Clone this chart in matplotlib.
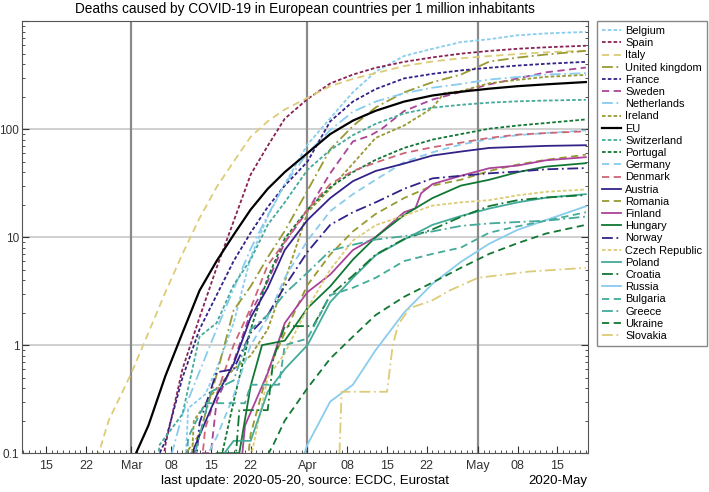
import datetime as dt
import matplotlib
matplotlib.use('Agg')
import matplotlib.pyplot as plt
import matplotlib.dates as mdates
from matplotlib.ticker import FuncFormatter, LogLocator, NullFormatter

plt.rcParams['font.family'] = ['Liberation Sans', 'DejaVu Sans']

# cumulative deaths per 1 million inhabitants, (date, value)
belgium = [("03-10", 0.02), ("03-11", 0.26), ("03-14", 0.35), ("03-16", 0.6), ("03-19", 1.6),
           ("03-22", 6.5), ("03-25", 15.5), ("03-28", 31), ("04-01", 72), ("04-05", 126),
           ("04-09", 220), ("04-13", 340), ("04-18", 476), ("04-23", 555), ("04-28", 640),
           ("05-03", 680), ("05-08", 740), ("05-13", 770), ("05-20", 795)]
spain = [("03-06", 0.05), ("03-07", 0.12), ("03-10", 0.6), ("03-13", 1.8), ("03-16", 5.2),
         ("03-19", 14), ("03-22", 38), ("03-25", 70), ("03-28", 125), ("04-01", 190),
         ("04-05", 265), ("04-09", 320), ("04-13", 370), ("04-18", 420), ("04-23", 462),
         ("04-28", 500), ("05-03", 530), ("05-08", 555), ("05-13", 573), ("05-20", 592)]
italy = [("02-22", 0.03), ("02-24", 0.09), ("02-26", 0.2), ("03-01", 0.55), ("03-04", 1.3),
         ("03-07", 3.1), ("03-10", 7), ("03-13", 15), ("03-16", 29), ("03-19", 50),
         ("03-22", 85), ("03-25", 118), ("03-28", 152), ("04-01", 195), ("04-05", 250),
         ("04-09", 292), ("04-13", 330), ("04-18", 384), ("04-23", 423), ("04-28", 453),
         ("05-03", 475), ("05-08", 496), ("05-13", 515), ("05-20", 533)]
uk = [("03-05", 0.015), ("03-07", 0.03), ("03-10", 0.09), ("03-13", 0.15), ("03-16", 0.53),
      ("03-19", 2.1), ("03-22", 3.5), ("03-25", 6.5), ("03-28", 11.4), ("04-01", 27),
      ("04-05", 65), ("04-09", 107), ("04-13", 159), ("04-18", 219), ("04-23", 272),
      ("04-28", 320), ("05-03", 422), ("05-08", 460), ("05-13", 491), ("05-20", 531)]
france = [("02-26", 0.03), ("03-04", 0.06), ("03-07", 0.13), ("03-10", 0.5), ("03-13", 1.4),
          ("03-16", 2.9), ("03-19", 6.0), ("03-22", 11), ("03-25", 19), ("03-28", 30),
          ("04-01", 50), ("04-05", 118), ("04-09", 180), ("04-13", 235), ("04-18", 295),
          ("04-23", 325), ("04-28", 350), ("05-03", 370), ("05-08", 388), ("05-13", 403),
          ("05-20", 420)]
sweden = [("03-10", 0.05), ("03-11", 0.1), ("03-15", 0.1), ("03-16", 0.3), ("03-19", 0.7),
          ("03-22", 2.0), ("03-25", 3.9), ("03-28", 8.9), ("04-01", 17.5), ("04-05", 39),
          ("04-09", 77), ("04-12", 87), ("04-14", 100), ("04-18", 147), ("04-23", 188),
          ("04-28", 221), ("05-03", 260), ("05-08", 295), ("05-13", 336), ("05-20", 372)]
netherlands = [("03-05", 0.03), ("03-07", 0.06), ("03-10", 0.23), ("03-13", 0.57), ("03-16", 1.4),
               ("03-19", 3.3), ("03-22", 7.8), ("03-25", 15.9), ("03-28", 31), ("04-01", 60),
               ("04-05", 98), ("04-09", 145), ("04-13", 180), ("04-18", 215), ("04-23", 242),
               ("04-28", 262), ("05-03", 288), ("05-08", 304), ("05-13", 320), ("05-20", 330)]
ireland = [("03-11", 0.02), ("03-12", 0.2), ("03-16", 0.4), ("03-19", 0.6), ("03-22", 0.8),
           ("03-25", 1.4), ("03-28", 3.9), ("04-01", 17), ("04-05", 28), ("04-09", 48),
           ("04-13", 83), ("04-18", 108), ("04-23", 157), ("04-25", 215), ("04-28", 225),
           ("05-03", 266), ("05-08", 286), ("05-13", 305), ("05-20", 318)]
eu = [("02-22", 0.015), ("02-26", 0.03), ("03-01", 0.08), ("03-04", 0.18), ("03-07", 0.52),
      ("03-10", 1.3), ("03-13", 3.2), ("03-16", 6.0), ("03-19", 10.5), ("03-22", 18),
      ("03-25", 28), ("03-28", 40), ("04-01", 60), ("04-05", 90), ("04-09", 120),
      ("04-13", 148), ("04-18", 180), ("04-23", 205), ("04-28", 222), ("05-03", 237),
      ("05-08", 250), ("05-13", 260), ("05-20", 273)]
switzerland = [("03-05", 0.05), ("03-06", 0.12), ("03-10", 0.23), ("03-13", 1.2), ("03-16", 1.6),
               ("03-19", 3.6), ("03-22", 6.2), ("03-25", 13), ("03-28", 21), ("04-01", 42),
               ("04-05", 64), ("04-09", 88), ("04-13", 112), ("04-18", 140), ("04-23", 158),
               ("04-28", 168), ("05-03", 176), ("05-08", 181), ("05-13", 184), ("05-20", 187)]
portugal = [("03-16", 0.05), ("03-17", 0.1), ("03-19", 0.3), ("03-22", 1.4), ("03-25", 4.2),
            ("03-28", 9.7), ("04-01", 18), ("04-05", 29), ("04-09", 40), ("04-13", 52),
            ("04-18", 67), ("04-23", 80), ("04-28", 90), ("05-03", 101), ("05-08", 108),
            ("05-13", 114), ("05-20", 123)]
germany = [("03-09", 0.024), ("03-13", 0.07), ("03-16", 0.14), ("03-19", 0.34), ("03-22", 1.0),
           ("03-25", 1.8), ("03-28", 4.2), ("04-01", 9.3), ("04-05", 17.4), ("04-09", 25),
           ("04-13", 34), ("04-18", 49.5), ("04-23", 61), ("04-28", 72), ("05-03", 81),
           ("05-08", 88), ("05-13", 92), ("05-20", 97.5)]
denmark = [("03-13", 0.05), ("03-14", 0.17), ("03-16", 0.35), ("03-19", 1.0), ("03-22", 2.2),
           ("03-25", 5.5), ("03-28", 9), ("04-01", 18), ("04-05", 31), ("04-09", 41),
           ("04-13", 49), ("04-18", 60), ("04-23", 68), ("04-28", 75), ("05-03", 83),
           ("05-08", 89), ("05-13", 92), ("05-20", 95.5)]
austria = [("03-11", 0.02), ("03-12", 0.11), ("03-16", 0.34), ("03-19", 0.67), ("03-22", 1.8),
           ("03-25", 3.4), ("03-28", 7.6), ("04-01", 14.4), ("04-05", 23), ("04-09", 33),
           ("04-13", 41), ("04-18", 48), ("04-23", 57), ("04-28", 62), ("05-03", 67),
           ("05-08", 68.5), ("05-13", 70), ("05-20", 71)]
romania = [("03-21", 0.05), ("03-22", 0.15), ("03-25", 0.57), ("03-28", 1.3), ("04-01", 3.6),
           ("04-05", 6.9), ("04-09", 11.3), ("04-13", 16.4), ("04-18", 23), ("04-23", 30),
           ("04-28", 34), ("05-03", 41), ("05-08", 47), ("05-13", 52), ("05-20", 58)]
finland = [("03-20", 0.05), ("03-21", 0.18), ("03-25", 0.55), ("03-28", 1.6), ("04-01", 3.1),
           ("04-05", 4.5), ("04-09", 7.6), ("04-13", 10), ("04-18", 17), ("04-20", 18.5),
           ("04-21", 25.5), ("04-23", 31), ("04-28", 37), ("05-03", 43.5), ("05-08", 46),
           ("05-13", 51.5), ("05-20", 55)]
hungary = [("03-14", 0.05), ("03-16", 0.1), ("03-20", 0.1), ("03-22", 0.42), ("03-24", 1.0),
           ("03-28", 1.1), ("04-01", 2.2), ("04-05", 3.5), ("04-09", 6.2), ("04-13", 10),
           ("04-18", 16), ("04-23", 23), ("04-28", 30), ("05-03", 34), ("05-08", 40),
           ("05-13", 45), ("05-20", 48.4)]
norway = [("03-12", 0.05), ("03-13", 0.19), ("03-16", 0.56), ("03-19", 0.6), ("03-22", 1.3),
          ("03-25", 1.9), ("03-28", 3.5), ("04-01", 7.3), ("04-05", 13), ("04-09", 17),
          ("04-13", 21), ("04-18", 28), ("04-23", 35), ("04-28", 37), ("05-03", 39),
          ("05-08", 40.5), ("05-13", 42.5), ("05-20", 43.6)]
czech = [("03-21", 0.05), ("03-22", 0.09), ("03-25", 0.5), ("03-28", 0.84), ("04-01", 2.2),
         ("04-05", 5.0), ("04-09", 9.3), ("04-13", 12.9), ("04-18", 15.8), ("04-23", 19.6),
         ("04-28", 21), ("05-03", 22), ("05-08", 24.4), ("05-13", 26.3), ("05-20", 27.6)]
poland = [("03-12", 0.026), ("03-16", 0.08), ("03-19", 0.13), ("03-22", 0.13), ("03-25", 0.37),
          ("03-28", 0.6), ("04-01", 1.0), ("04-05", 2.5), ("04-09", 4.2), ("04-13", 6.8),
          ("04-18", 9.5), ("04-23", 13), ("04-28", 15.7), ("05-03", 18.4), ("05-08", 21),
          ("05-13", 23.2), ("05-20", 25)]
croatia = [("03-19", 0.05), ("03-20", 0.25), ("03-25", 0.25), ("03-26", 0.75), ("03-28", 1.5),
           ("04-02", 1.5), ("04-05", 2.9), ("04-09", 4.4), ("04-13", 6.9), ("04-18", 9.6),
           ("04-23", 11.8), ("04-28", 15.4), ("05-03", 19.4), ("05-08", 22), ("05-13", 23.3),
           ("05-20", 24.5)]
russia = [("03-28", 0.03), ("04-01", 0.12), ("04-05", 0.3), ("04-09", 0.43), ("04-13", 0.9),
          ("04-18", 2.0), ("04-23", 3.7), ("04-28", 5.9), ("05-03", 8.7), ("05-08", 11.7),
          ("05-13", 14.4), ("05-20", 19.3)]
bulgaria = [("03-10", 0.02), ("03-11", 0.14), ("03-14", 0.29), ("03-21", 0.29), ("03-22", 0.43),
            ("03-27", 0.43), ("03-28", 1.0), ("04-01", 1.15), ("04-05", 2.9), ("04-09", 3.4),
            ("04-13", 4.2), ("04-18", 6), ("04-23", 7), ("04-28", 8), ("05-03", 11),
            ("05-08", 12.6), ("05-13", 14.2), ("05-20", 17)]
greece = [("03-11", 0.02), ("03-12", 0.09), ("03-15", 0.37), ("03-19", 0.47), ("03-22", 1.4),
          ("03-25", 1.9), ("03-28", 3.0), ("04-01", 4.7), ("04-05", 7.5), ("04-09", 8.5),
          ("04-13", 9.5), ("04-18", 10.2), ("04-23", 11.3), ("04-28", 12.7), ("05-03", 13.4),
          ("05-08", 13.8), ("05-13", 14.2), ("05-20", 15.5)]
ukraine = [("03-22", 0.05), ("03-26", 0.12), ("03-28", 0.2), ("04-01", 0.4), ("04-05", 0.75),
           ("04-09", 1.2), ("04-13", 1.9), ("04-18", 2.8), ("04-23", 3.8), ("04-28", 5.2),
           ("05-03", 7), ("05-08", 8.8), ("05-13", 10.8), ("05-20", 13)]
slovakia = [("04-06", 0.01), ("04-07", 0.37), ("04-15", 0.37), ("04-16", 1.0), ("04-17", 1.56),
            ("04-19", 2.2), ("04-23", 2.6), ("04-26", 3.2), ("05-01", 4.2), ("05-10", 4.8),
            ("05-20", 5.2)]

# Paul Tol "muted" colours
indigo, cyan, teal, green = '#332288', '#88CCEE', '#44AA99', '#117733'
olive, sand, rose, wine, purple = '#999933', '#DDCC77', '#CC6677', '#882255', '#AA4499'
dot, dash, dashdot = (0, (2, 1.2)), (0, (4, 2.5)), (0, (6, 2, 1, 2))

series = [
    ("Belgium", belgium, cyan, dot),
    ("Spain", spain, wine, dot),
    ("Italy", italy, sand, dash),
    ("United kingdom", uk, olive, dashdot),
    ("France", france, indigo, dot),
    ("Sweden", sweden, purple, dash),
    ("Netherlands", netherlands, cyan, dashdot),
    ("Ireland", ireland, olive, dot),
    ("EU", eu, 'black', '-'),
    ("Switzerland", switzerland, teal, dot),
    ("Portugal", portugal, green, dot),
    ("Germany", germany, cyan, dash),
    ("Denmark", denmark, rose, dash),
    ("Austria", austria, indigo, '-'),
    ("Romania", romania, olive, dash),
    ("Finland", finland, purple, '-'),
    ("Hungary", hungary, green, '-'),
    ("Norway", norway, indigo, dashdot),
    ("Czech Republic", czech, sand, dot),
    ("Poland", poland, teal, '-'),
    ("Croatia", croatia, green, dashdot),
    ("Russia", russia, cyan, '-'),
    ("Bulgaria", bulgaria, teal, dash),
    ("Greece", greece, teal, dashdot),
    ("Ukraine", ukraine, green, dash),
    ("Slovakia", slovakia, sand, dashdot),
]


def to_date(s):
    m, d = s.split('-')
    return dt.datetime(2020, int(m), int(d))


fig = plt.figure(figsize=(7.09, 4.92), dpi=100)
ax = fig.add_axes([0.031, 0.079, 0.798, 0.878])

# grid: light horizontal lines, darker month lines
for yv in [1, 10, 100]:
    ax.axhline(yv, color='#c8c8c8', lw=1.2, zorder=0)
for mon in [3, 4, 5]:
    ax.axvline(dt.datetime(2020, mon, 1), color='#8a8a8a', lw=1.6, zorder=0)

for name, pts, col, ls in series:
    x = [to_date(d) for d, v in pts]
    y = [v for d, v in pts]
    lw = 1.6 if name == "EU" else 1.3
    ax.plot(x, y, color=col, ls=ls, lw=lw, label=name)

ax.set_yscale('log')
ax.set_ylim(0.1, 1000)
ax.set_xlim(dt.datetime(2020, 2, 10, 18), dt.datetime(2020, 5, 20, 8))

ax.yaxis.set_major_locator(LogLocator(base=10, numticks=10))
ax.yaxis.set_minor_locator(LogLocator(base=10, subs=range(2, 10), numticks=10))
ax.yaxis.set_minor_formatter(NullFormatter())
ax.yaxis.set_major_formatter(FuncFormatter(lambda v, p: '' if v >= 1000 else '%g' % v))

ax.xaxis.set_major_locator(mdates.DayLocator(bymonthday=[1, 8, 15, 22]))
ax.xaxis.set_minor_locator(mdates.DayLocator())
ax.xaxis.set_major_formatter(FuncFormatter(
    lambda v, p: mdates.num2date(v).strftime('%b') if mdates.num2date(v).day == 1
    else mdates.num2date(v).strftime('%d')))

ax.tick_params(which='both', direction='in', right=True, colors='#333333')
ax.tick_params(which='major', length=5)
ax.tick_params(which='minor', length=2.5)
ax.tick_params(axis='x', labelsize=9, pad=5)
ax.tick_params(axis='y', labelsize=8.5, pad=2)
for sp in ax.spines.values():
    sp.set_color('#555555')

ax.set_title("Deaths caused by COVID-19 in European countries per 1 million inhabitants",
             fontsize=9.8, pad=6)
fig.text(0.430, 0.022, "last update: 2020-05-20, source: ECDC, Eurostat",
         ha='center', va='center', fontsize=9.5)
fig.text(0.829, 0.022, "2020-May", ha='right', va='center', fontsize=9.5)

ax.legend(loc='upper left', bbox_to_anchor=(1.017, 1.0), borderaxespad=0,
          fontsize=7.9, labelspacing=0.2, handlelength=1.7, handletextpad=0.4,
          borderpad=0.45, fancybox=False, edgecolor='#888888', framealpha=1)

fig.savefig('out.png', dpi=100)
